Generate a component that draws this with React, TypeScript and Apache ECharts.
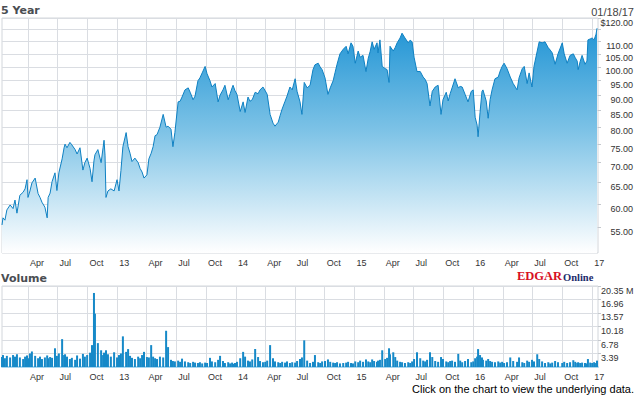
import React, { useEffect, useRef } from 'react';
import * as echarts from 'echarts';

const rangeStart = '2012-01-12';
const rangeEnd = '2017-01-19';

const quarterDates = [
  '2012-04-01', '2012-07-01', '2012-10-01', '2013-01-01', '2013-04-01', '2013-07-01', '2013-10-01',
  '2014-01-01', '2014-04-01', '2014-07-01', '2014-10-01', '2015-01-01', '2015-04-01', '2015-07-01',
  '2015-10-01', '2016-01-01', '2016-04-01', '2016-07-01', '2016-10-01', '2017-01-01',
];
const quarterLabels = [
  'Apr', 'Jul', 'Oct', '13', 'Apr', 'Jul', 'Oct', '14', 'Apr', 'Jul', 'Oct', '15', 'Apr', 'Jul',
  'Oct', '16', 'Apr', 'Jul', 'Oct', '17',
];

const priceMin = 50;
const priceMax = 120;
const priceGridTicks = [55, 60, 65, 70, 75, 80, 85, 90, 95, 100, 105, 110, 115, 120];
const priceLabelTicks = [55, 60, 65, 70, 75, 80, 85, 90, 95, 100, 105, 110, 120];
const volumeMax = 20.35;
const volumeTicks = [3.39, 6.78, 10.18, 13.57, 16.96, 20.35];

const dates = [
  '2012-01-12', '2012-01-15', '2012-01-21', '2012-01-27', '2012-02-06', '2012-02-15', '2012-02-21', '2012-02-27', '2012-03-07', '2012-03-17',
  '2012-03-23', '2012-03-29', '2012-04-01', '2012-04-07', '2012-04-13', '2012-04-23', '2012-05-02', '2012-05-08', '2012-05-14', '2012-05-23',
  '2012-05-30', '2012-06-02', '2012-06-08', '2012-06-14', '2012-06-23', '2012-06-29', '2012-07-05', '2012-07-15', '2012-07-21', '2012-07-24',
  '2012-07-30', '2012-08-08', '2012-08-14', '2012-08-24', '2012-08-30', '2012-09-08', '2012-09-17', '2012-09-23', '2012-09-30', '2012-10-09',
  '2012-10-15', '2012-10-21', '2012-10-24', '2012-11-02', '2012-11-12', '2012-11-18', '2012-11-21', '2012-11-24', '2012-11-27', '2012-12-03',
  '2012-12-12', '2012-12-22', '2012-12-31',
  '2013-01-06', '2013-01-12', '2013-01-18', '2013-01-28', '2013-02-03', '2013-02-09', '2013-02-15', '2013-02-24', '2013-03-06', '2013-03-12',
  '2013-03-18', '2013-03-24', '2013-04-02', '2013-04-08', '2013-04-15', '2013-04-21', '2013-04-27', '2013-05-03', '2013-05-12', '2013-05-22',
  '2013-05-31', '2013-06-06', '2013-06-15', '2013-06-21', '2013-06-27', '2013-07-07', '2013-07-13', '2013-07-19', '2013-07-28', '2013-08-07',
  '2013-08-13', '2013-08-22', '2013-08-28', '2013-09-06', '2013-09-12', '2013-09-19', '2013-09-28', '2013-10-04', '2013-10-13', '2013-10-19',
  '2013-10-29', '2013-11-07', '2013-11-13', '2013-11-22', '2013-11-28', '2013-12-08', '2013-12-14', '2013-12-20', '2013-12-23', '2013-12-29',
  '2014-01-04', '2014-01-14', '2014-01-23', '2014-01-29', '2014-02-07', '2014-02-13', '2014-02-20', '2014-03-01', '2014-03-10', '2014-03-16',
  '2014-03-25', '2014-04-01', '2014-04-07', '2014-04-16', '2014-04-25', '2014-05-01', '2014-05-11', '2014-05-17', '2014-05-23', '2014-06-01',
  '2014-06-07', '2014-06-16', '2014-06-23', '2014-07-02', '2014-07-08', '2014-07-17', '2014-07-23', '2014-07-30', '2014-08-08', '2014-08-17',
  '2014-08-26', '2014-09-01', '2014-09-11', '2014-09-17', '2014-09-23', '2014-10-02', '2014-10-11', '2014-10-18', '2014-10-27', '2014-11-02',
  '2014-11-08', '2014-11-17', '2014-11-27', '2014-12-06', '2014-12-12', '2014-12-21', '2014-12-27',
  '2015-01-03', '2015-01-12', '2015-01-18', '2015-01-27', '2015-02-05', '2015-02-12', '2015-02-18', '2015-02-24', '2015-03-02', '2015-03-11',
  '2015-03-14', '2015-03-20', '2015-03-27', '2015-04-05', '2015-04-11', '2015-04-17', '2015-04-20', '2015-04-30', '2015-05-06', '2015-05-12',
  '2015-05-21', '2015-05-27', '2015-06-05', '2015-06-15', '2015-06-21', '2015-06-27', '2015-07-03', '2015-07-12', '2015-07-22', '2015-07-31',
  '2015-08-06', '2015-08-12', '2015-08-21', '2015-08-28', '2015-09-06', '2015-09-15', '2015-09-24', '2015-09-30', '2015-10-10', '2015-10-16',
  '2015-10-22', '2015-10-28', '2015-11-06', '2015-11-16', '2015-11-22', '2015-11-28', '2015-12-07', '2015-12-16', '2015-12-26',
  '2016-01-01', '2016-01-07', '2016-01-13', '2016-01-16', '2016-01-22', '2016-01-28', '2016-01-31', '2016-02-10', '2016-02-16', '2016-02-22',
  '2016-02-28', '2016-03-08', '2016-03-18', '2016-03-24', '2016-03-30', '2016-04-05', '2016-04-14', '2016-04-24', '2016-05-03', '2016-05-15',
  '2016-05-21', '2016-05-31', '2016-06-06', '2016-06-15', '2016-06-21', '2016-06-30', '2016-07-06', '2016-07-16', '2016-07-22', '2016-07-31',
  '2016-08-09', '2016-08-19', '2016-08-25', '2016-08-31', '2016-09-09', '2016-09-18', '2016-10-01', '2016-10-07', '2016-10-16', '2016-10-25',
  '2016-11-04', '2016-11-10', '2016-11-16', '2016-11-19', '2016-11-25', '2016-12-01', '2016-12-10', '2016-12-16', '2016-12-19', '2016-12-26',
  '2017-01-01', '2017-01-07', '2017-01-13', '2017-01-16',
];

const prices = [
  55.5, 57.0, 56.5, 58.7, 59.8, 59.0, 60.9, 58.0, 62.0, 62.7,
  63.5, 65.7, 61.5, 63.0, 64.9, 66.1, 62.4, 61.5, 60.4, 59.3,
  57.0, 61.5, 62.5, 65.2, 67.4, 63.1, 67.4, 71.0, 74.0, 75.0,
  74.0, 75.5, 74.8, 73.5, 72.3, 74.0, 68.1, 70.0, 71.2, 68.5,
  65.2, 70.5, 72.1, 73.5, 70.0, 74.0, 76.1, 72.0, 61.5, 63.0,
  63.5, 63.0, 65.7,
  63.0, 68.0, 74.3, 78.3, 74.3, 72.5, 70.3, 71.2, 70.0, 68.5,
  67.6, 66.1, 66.9, 71.0, 72.5, 74.3, 77.4, 77.7, 79.9, 83.8,
  79.9, 80.2, 79.3, 74.3, 78.3, 87.8, 88.0, 89.4, 91.8, 92.5,
  91.0, 88.5, 89.7, 95.0, 96.0, 97.8, 100.2, 97.5, 95.0, 92.8,
  94.0, 87.8, 90.0, 91.8, 93.4, 88.5, 90.5, 92.5, 93.4, 91.5,
  90.3, 84.7, 87.8, 84.4, 89.4, 88.0, 88.5, 91.0, 90.5, 91.8,
  92.8, 91.5, 90.3, 83.8, 81.1, 80.2, 81.4, 83.5, 85.5, 88.0,
  89.7, 92.8, 91.8, 95.7, 91.3, 87.8, 83.8, 94.4, 92.5, 93.4,
  99.0, 100.8, 101.4, 100.0, 99.0, 96.0, 90.3, 92.5, 95.0, 98.0,
  101.0, 105.0, 106.8, 108.0, 105.0, 109.4, 108.0,
  101.4, 106.1, 103.7, 104.4, 98.3, 103.3, 106.0, 109.8, 106.8, 109.4,
  105.4, 110.6, 100.2, 99.4, 99.0, 94.4, 108.0, 106.1, 107.5, 109.4,
  111.4, 113.4, 111.4, 109.4, 110.5, 109.8, 103.7, 98.3, 98.3, 96.3,
  95.5, 94.0, 86.5, 91.3, 92.8, 93.4, 83.8, 88.5, 91.0, 88.1,
  90.5, 92.5, 95.7, 92.5, 93.0, 92.8, 90.3, 87.8, 91.3,
  91.8, 82.9, 80.5, 77.1, 84.4, 91.3, 91.8, 88.1, 82.6, 88.5,
  91.8, 95.7, 96.3, 98.5, 100.2, 101.4, 99.4, 96.3, 94.0, 91.8,
  96.0, 99.4, 100.2, 94.0, 97.8, 92.8, 100.2, 106.1, 109.8, 109.4,
  109.8, 107.4, 106.5, 105.4, 101.0, 105.0, 109.4, 105.0, 101.4, 104.4,
  105.0, 103.5, 102.2, 99.0, 102.0, 104.4, 101.0, 102.2, 110.6, 111.0,
  111.4, 110.6, 113.0, 115.5,
];

// volume in millions of shares
const volumes = [
  2.5, 3.0, 2.2, 2.8, 2.4, 3.0, 2.6, 3.2, 2.4, 2.0,
  2.6, 2.9, 2.2, 3.4, 3.9, 2.8, 2.2, 2.6, 2.0, 2.4,
  2.9, 2.2, 2.5, 2.3, 4.7, 2.8, 3.4, 7.0, 3.0, 3.2,
  2.6, 2.0, 2.3, 1.8, 2.9, 2.1, 3.3, 2.6, 3.0, 3.6,
  5.5, 18.6, 13.4, 6.0, 4.2, 3.0, 3.6, 2.8, 4.2, 3.2,
  2.6, 3.7, 2.4,
  3.0, 3.4, 7.7, 3.8, 4.5, 2.8, 2.3, 2.0, 2.6, 2.2,
  3.0, 3.8, 2.5, 2.4, 5.5, 2.6, 2.2, 2.0, 2.6, 2.4,
  9.1, 5.0, 1.8, 1.5, 1.4, 1.6, 1.3, 2.1, 1.4, 1.2,
  1.0, 1.3, 1.1, 1.0, 1.2, 0.9, 1.1, 1.0, 2.3, 1.4,
  1.2, 1.8, 2.8, 1.5, 1.0, 1.2, 0.9, 1.1, 0.8, 1.0,
  1.3, 2.2, 3.8, 2.6, 1.6, 1.4, 1.9, 4.5, 2.5, 1.5,
  1.2, 1.3, 1.6, 5.5, 2.2, 1.4, 1.2, 1.0, 1.3, 1.1,
  1.4, 1.0, 1.2, 1.1, 1.5, 2.0, 2.4, 6.7, 1.6, 1.0,
  1.3, 3.0, 1.2, 1.0, 1.4, 1.5, 1.9, 1.3, 1.1, 1.0,
  1.2, 0.9, 1.0, 1.1, 1.3, 1.0, 0.9,
  1.4, 1.2, 1.6, 1.3, 1.9, 1.4, 1.2, 1.9, 1.5, 1.3,
  1.6, 1.8, 4.2, 2.0, 2.3, 4.7, 3.2, 3.7, 2.5, 1.6,
  1.3, 1.2, 1.0, 1.2, 1.0, 1.4, 2.0, 3.7, 2.2, 1.6,
  1.4, 1.8, 3.7, 2.5, 1.5, 1.3, 2.5, 2.0, 1.4, 1.2,
  1.5, 1.6, 1.3, 3.3, 1.6, 1.2, 1.5, 2.0, 1.2,
  1.4, 2.2, 2.6, 4.5, 3.0, 2.4, 1.8, 1.6, 2.0, 1.5,
  1.3, 1.2, 1.4, 1.1, 1.3, 1.0, 1.2, 2.4, 1.5, 1.3,
  2.4, 1.2, 1.0, 1.6, 1.3, 1.8, 1.4, 3.2, 2.0, 1.4,
  1.0, 1.2, 0.9, 1.1, 1.5, 1.2, 1.0, 1.3, 1.0, 1.2,
  1.7, 1.3, 1.0, 1.2, 1.0, 1.1, 1.0, 0.9, 2.0, 1.1,
  1.0, 1.2, 1.0, 1.6,
];

const SANS = '"Liberation Sans", Arial, sans-serif';
const GRID_COLOR = '#dadde2';
const AXIS_TEXT = '#333333';

function buildOption() {
  const quarterTs = quarterDates.map((d) => Date.parse(d));
  const xMin = Date.parse(rangeStart);
  const xMax = Date.parse(rangeEnd);
  const quarterFormatter = (v: number) => {
    const i = quarterTs.findIndex((t) => Math.abs(t - v) < 43200000);
    return i >= 0 ? quarterLabels[i] : '';
  };

  const makeX = (gridIndex: number, showLine: boolean) => ({
    type: 'value',
    gridIndex,
    min: xMin,
    max: xMax,
    axisLine: { show: showLine, lineStyle: { color: '#a8d6ef', width: 2 } },
    axisTick: { show: false, customValues: quarterTs },
    axisLabel: {
      customValues: quarterTs,
      formatter: quarterFormatter,
      align: 'left',
      padding: [0, 0, 0, 2],
      margin: 5,
      fontSize: 9,
      fontFamily: SANS,
      color: AXIS_TEXT,
    },
    splitLine: { show: true, lineStyle: { color: GRID_COLOR, width: 1 } },
  });

  const priceData = dates.map((d, i) => [Date.parse(d), Math.log(prices[i])]);
  const volumeData = dates.map((d, i) => [Date.parse(d), volumes[i]]);

  return {
    animation: false,
    backgroundColor: '#ffffff',
    grid: [
      {
        left: 2, right: 37, top: 18, bottom: 142,
        show: true, borderColor: '#d2d6db', borderWidth: 1, backgroundColor: '#ffffff',
        outerBoundsMode: 'none', containLabel: false,
      },
      {
        left: 2, right: 37, top: 286, bottom: 28,
        show: true, borderColor: '#d2d6db', borderWidth: 1, backgroundColor: '#ffffff',
        outerBoundsMode: 'none', containLabel: false,
      },
    ],
    xAxis: [makeX(0, false), makeX(1, true)],
    yAxis: [
      {
        type: 'value',
        gridIndex: 0,
        position: 'right',
        min: Math.log(priceMin),
        max: Math.log(priceMax),
        axisLine: { show: false },
        axisTick: {
          show: true, length: 3, customValues: priceGridTicks.map((p) => Math.log(p)),
          lineStyle: { color: '#c4c8cd' },
        },
        axisLabel: {
          customValues: priceLabelTicks.map((p) => Math.log(p)),
          formatter: (v: number) => {
            const p = Math.round(Math.exp(v) * 100) / 100;
            return p === priceMax ? '$' + p.toFixed(2) : p.toFixed(2);
          },
          align: 'right',
          verticalAlign: 'top',
          margin: 35,
          fontSize: 9,
          fontFamily: SANS,
          color: AXIS_TEXT,
        },
        splitLine: { show: true, lineStyle: { color: GRID_COLOR, width: 1 } },
      },
      {
        type: 'value',
        gridIndex: 1,
        position: 'right',
        min: 0,
        max: volumeMax,
        axisLine: { show: false },
        axisTick: { show: true, length: 3, customValues: volumeTicks, lineStyle: { color: '#c4c8cd' } },
        axisLabel: {
          customValues: volumeTicks,
          formatter: (v: number) => (Math.abs(v - volumeMax) < 0.001 ? v.toFixed(2) + ' M' : v.toFixed(2)),
          align: 'left',
          verticalAlign: 'top',
          margin: 3,
          fontSize: 9,
          fontFamily: SANS,
          color: AXIS_TEXT,
        },
        splitLine: { show: true, lineStyle: { color: GRID_COLOR, width: 1 } },
      },
    ],
    series: [
      {
        type: 'line',
        xAxisIndex: 0,
        yAxisIndex: 0,
        data: priceData,
        symbol: 'none',
        showSymbol: false,
        silent: true,
        lineStyle: { width: 1, color: '#0f80c2' },
        areaStyle: {
          origin: 'start',
          opacity: 1,
          color: new echarts.graphic.LinearGradient(0, 0, 0, 1, [
            { offset: 0, color: '#2295d5' },
            { offset: 0.45, color: '#7cc2e6' },
            { offset: 1, color: '#ffffff' },
          ]),
        },
      },
      {
        type: 'bar',
        xAxisIndex: 1,
        yAxisIndex: 1,
        data: volumeData,
        barWidth: 2,
        silent: true,
        itemStyle: { color: '#1689c8' },
      },
    ],
    graphic: [
      {
        type: 'text', x: 1, y: 10, silent: true,
        style: { text: '5 Year', font: 'bold 11px "DejaVu Sans"', fill: '#4a4d52', align: 'left', verticalAlign: 'middle', textAlign: 'left', textVerticalAlign: 'middle' },
      },
      {
        type: 'text', x: 634, y: 11.5, silent: true,
        style: { text: '01/18/17', font: '11px "Liberation Sans"', fill: '#444444', align: 'right', verticalAlign: 'middle', textAlign: 'right', textVerticalAlign: 'middle' },
      },
      {
        type: 'text', x: 1, y: 278, silent: true,
        style: { text: 'Volume', font: 'bold 11px "DejaVu Sans"', fill: '#4a4d52', align: 'left', verticalAlign: 'middle', textAlign: 'left', textVerticalAlign: 'middle' },
      },
      {
        type: 'text', x: 517, y: 276, silent: true,
        style: { text: 'EDGAR', font: 'bold 12.5px "Liberation Serif"', fill: '#d7101f', align: 'left', verticalAlign: 'middle', textAlign: 'left', textVerticalAlign: 'middle' },
      },
      {
        type: 'text', x: 563, y: 277, silent: true,
        style: { text: 'Online', font: 'bold 10.5px "Liberation Serif"', fill: '#1d2c6b', align: 'left', verticalAlign: 'middle', textAlign: 'left', textVerticalAlign: 'middle' },
      },
      {
        type: 'text', x: 634, y: 388.5, silent: true,
        style: { text: 'Click on the chart to view the underlying data.', font: '11px "Liberation Sans"', fill: '#000000', align: 'right', verticalAlign: 'middle', textAlign: 'right', textVerticalAlign: 'middle' },
      },
    ],
  };
}

export default function App() {
  const ref = useRef<HTMLDivElement>(null);
  useEffect(() => {
    document.body.style.margin = '0';
    if (!ref.current) return;
    const chart = echarts.init(ref.current, null, { renderer: 'svg' });
    chart.setOption(buildOption() as any);
    return () => {
      chart.dispose();
    };
  }, []);
  return <div ref={ref} style={{ width: 635, height: 395 }} />;
}
